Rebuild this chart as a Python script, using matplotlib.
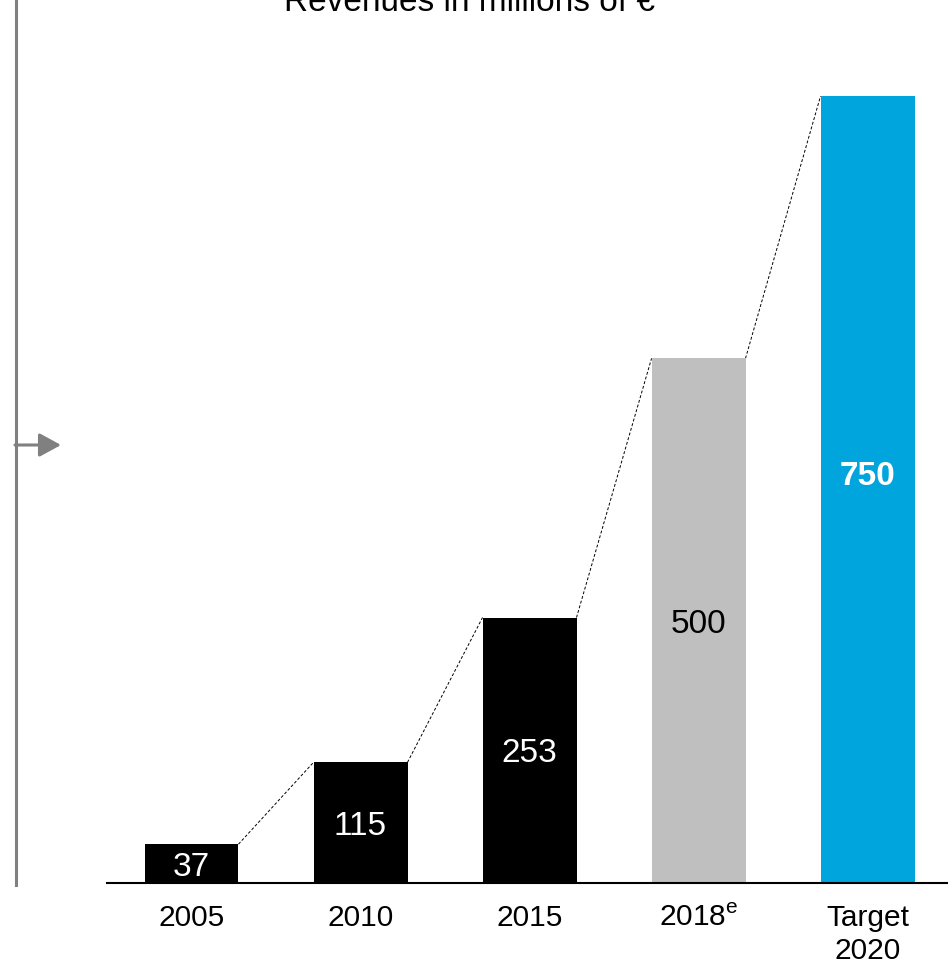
import matplotlib.pyplot as plt
from matplotlib.lines import Line2D

# data
years = ["2005", "2010", "2015", "2018$^\\mathregular{e}$", "Target\n2020"]
revenues = [37, 115, 253, 500, 750]
bar_colors = ["#000000", "#000000", "#000000", "#bfbfbf", "#00a5de"]
label_colors = ["white", "white", "white", "black", "white"]
label_weights = ["normal", "normal", "normal", "normal", "bold"]

W, H = 948, 966
fig = plt.figure(figsize=(W / 100, H / 100), dpi=100)
plt.rcParams['font.family'] = ['Liberation Sans', 'DejaVu Sans']

ax = fig.add_axes([107 / W, 83 / H, 1 - 107 / W, 1 - 83 / H])
x = list(range(len(years)))
bar_w = 0.556
ax.bar(x, revenues, width=bar_w, color=bar_colors, zorder=2)

ax.set_xlim(-0.5, 4.476)
ax.set_ylim(0, 883 / (787 / 750))

# value labels
for i, v in enumerate(revenues):
    y = v / 2 if i < 4 else v * 0.521
    ax.annotate(str(v), (i, y), xytext=(0, -2.5), textcoords='offset points',
                ha='center', va='center', fontsize=24,
                color=label_colors[i], fontweight=label_weights[i], zorder=3)

# dashed connectors between bar tops
for i in range(len(revenues) - 1):
    ax.plot([i + bar_w / 2, i + 1 - bar_w / 2], [revenues[i], revenues[i + 1]],
            ls=(0, (3, 2)), color='black', lw=0.7, zorder=1)

for s in ['top', 'right', 'left']:
    ax.spines[s].set_visible(False)
ax.spines['bottom'].set_linewidth(1.5)
ax.spines['bottom'].set_zorder(4)
ax.set_yticks([])
ax.set_xticks(x)
ax.set_xticklabels(years, fontsize=21.5, linespacing=1.25)
ax.tick_params(axis='x', length=0, pad=15)

# title (cut at top in the reference)
fig.text(470 / W, 1 - 11 / H, "Revenues in millions of €", ha='center',
         va='baseline', fontsize=24)

# left gray bracket line and arrow
fig.add_artist(Line2D([15.5 / W, 15.5 / W], [1 - 885 / H, 1.0],
                      transform=fig.transFigure, color='#808080', lw=2.2))
ax.annotate("", xy=(61, H - 445), xytext=(15, H - 445),
            xycoords='figure pixels', textcoords='figure pixels',
            arrowprops=dict(arrowstyle="-|>,head_length=1.1,head_width=0.6",
                            color='#808080', lw=2.2, mutation_scale=12,
                            shrinkA=0, shrinkB=0))

fig.savefig("out.png", dpi=100)
